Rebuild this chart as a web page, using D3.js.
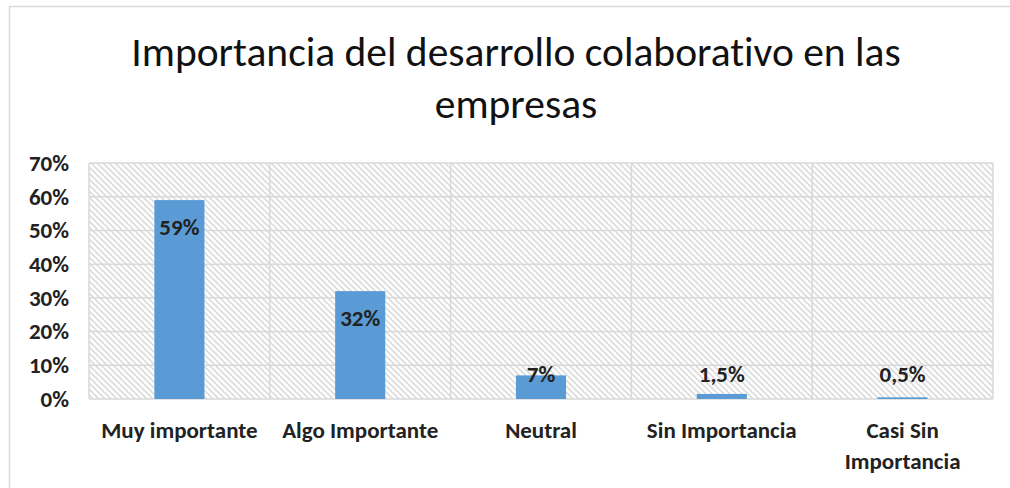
<!DOCTYPE html>
<html>
<head>
<meta charset="utf-8">
<script src="https://cdn.jsdelivr.net/npm/d3@7"></script>
<style>
  body { margin: 0; background: #fff; }
  text { font-family: Calibri, Carlito, Lato, sans-serif; font-variant-ligatures: none; }
</style>
</head>
<body>
<div id="chart"></div>
<script>
var categories = ["Muy importante", "Algo Importante", "Neutral", "Sin Importancia", "Casi Sin Importancia"];
var catLines = [["Muy importante"], ["Algo Importante"], ["Neutral"], ["Sin Importancia"], ["Casi Sin", "Importancia"]];
var values = [0.59, 0.32, 0.07, 0.015, 0.005];
var valueLabels = ["59%", "32%", "7%", "1,5%", "0,5%"];
var yTicks = [0, 0.1, 0.2, 0.3, 0.4, 0.5, 0.6, 0.7];
var titleLines = ["Importancia del desarrollo colaborativo en las", "empresas"];

var W = 1010, H = 488;
var plot = { left: 89, top: 163, right: 993, bottom: 399 };

var svg = d3.select("#chart").append("svg")
  .attr("width", W)
  .attr("height", H);

// hatch pattern for the plot area
var pat = svg.append("defs").append("pattern")
  .attr("id", "hatch")
  .attr("patternUnits", "userSpaceOnUse")
  .attr("width", 6)
  .attr("height", 6);
pat.append("rect").attr("width", 6).attr("height", 6).attr("fill", "#fff");
pat.append("path")
  .attr("d", "M-1,-1 L7,7 M-4,2 L1,7 M2,-4 L7,1")
  .attr("stroke", "#dcdcdc")
  .attr("stroke-width", 1.6);

// chart border (only top and left visible)
svg.append("path")
  .attr("d", "M9.5," + H + " L9.5,6.5 L" + W + ",6.5")
  .attr("fill", "none")
  .attr("stroke", "#d9d9d9")
  .attr("stroke-width", 1.5);

// title
svg.append("text")
  .attr("text-anchor", "middle")
  .attr("font-size", 41.5)
  .attr("fill", "#111")
  .selectAll("tspan")
  .data(titleLines)
  .enter().append("tspan")
  .attr("x", 516)
  .attr("y", function(d, i) { return 66 + i * 52; })
  .text(function(d) { return d; });

var x = d3.scaleBand()
  .domain(categories)
  .range([plot.left, plot.right])
  .paddingInner(0)
  .paddingOuter(0);

var y = d3.scaleLinear()
  .domain([0, 0.7])
  .range([plot.bottom, plot.top]);

var g = svg.append("g");

g.append("rect")
  .attr("x", plot.left)
  .attr("y", plot.top)
  .attr("width", plot.right - plot.left)
  .attr("height", plot.bottom - plot.top)
  .attr("fill", "url(#hatch)");

// horizontal gridlines
g.selectAll(".hgrid")
  .data(yTicks)
  .enter().append("line")
  .attr("class", "hgrid")
  .attr("x1", plot.left)
  .attr("x2", plot.right)
  .attr("y1", function(d) { return y(d); })
  .attr("y2", function(d) { return y(d); })
  .attr("stroke", "#d9d9d9")
  .attr("stroke-width", 1.5);

// vertical gridlines at category edges
var edges = categories.map(function(c) { return x(c); }).concat([plot.right]);
g.selectAll(".vgrid")
  .data(edges)
  .enter().append("line")
  .attr("class", "vgrid")
  .attr("x1", function(d) { return d; })
  .attr("x2", function(d) { return d; })
  .attr("y1", plot.top)
  .attr("y2", plot.bottom)
  .attr("stroke", "#d9d9d9")
  .attr("stroke-width", 1.5);

// bars
var barW = x.bandwidth() * 0.277;
g.selectAll(".bar")
  .data(values)
  .enter().append("rect")
  .attr("class", "bar")
  .attr("x", function(d, i) { return x(categories[i]) + (x.bandwidth() - barW) / 2; })
  .attr("y", function(d) { return y(d); })
  .attr("width", barW)
  .attr("height", function(d) { return y(0) - y(d); })
  .attr("fill", "#5b9bd5");

// value labels
g.selectAll(".vlabel")
  .data(values)
  .enter().append("text")
  .attr("class", "vlabel")
  .attr("text-anchor", "middle")
  .attr("font-size", 23)
  .attr("font-weight", "bold")
  .attr("fill", "#222")
  .attr("x", function(d, i) { return x(categories[i]) + x.bandwidth() / 2; })
  .attr("y", function(d) { return Math.min(y(d) + 35, y(0) - 17); })
  .text(function(d, i) { return valueLabels[i]; });

// y axis labels
var yAxis = d3.axisLeft(y)
  .tickValues(yTicks)
  .tickFormat(d3.format(".0%"))
  .tickSize(0)
  .tickPadding(0);
var ya = svg.append("g")
  .attr("transform", "translate(69,0)")
  .call(yAxis);
ya.select(".domain").remove();
ya.selectAll("text")
  .attr("font-size", 23)
  .attr("font-weight", "bold")
  .attr("fill", "#222")
  .attr("font-family", "Calibri, Carlito, Lato, sans-serif");

// category labels
svg.selectAll(".clabel")
  .data(catLines)
  .enter().append("text")
  .attr("class", "clabel")
  .attr("text-anchor", "middle")
  .attr("font-size", 23)
  .attr("font-weight", "bold")
  .attr("fill", "#222")
  .each(function(lines, i) {
    d3.select(this).selectAll("tspan")
      .data(lines)
      .enter().append("tspan")
      .attr("x", x(categories[i]) + x.bandwidth() / 2)
      .attr("y", function(d, j) { return 438 + j * 31; })
      .text(function(d) { return d; });
  });
</script>
</body>
</html>
